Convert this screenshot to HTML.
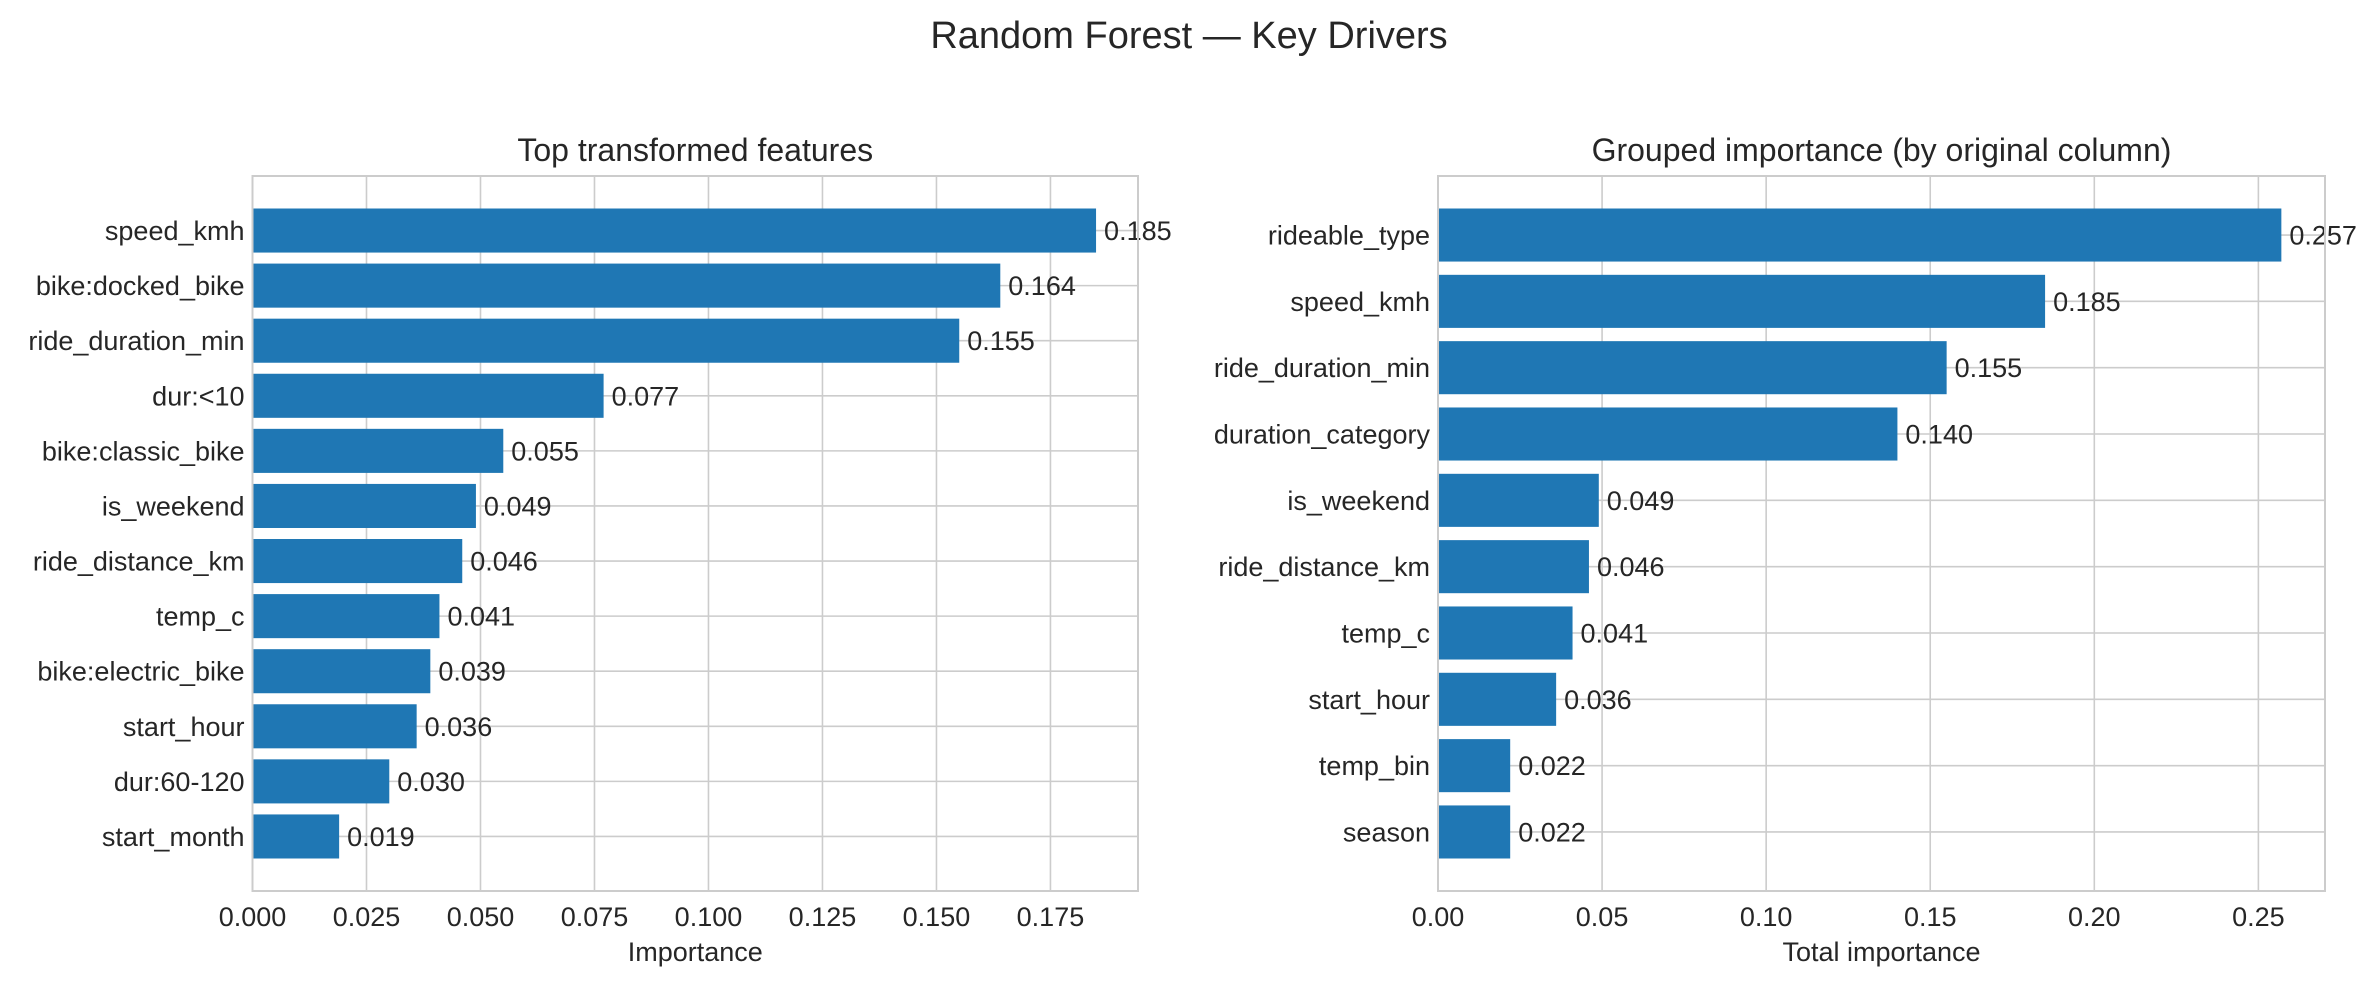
<!DOCTYPE html>
<html><head><meta charset="utf-8"><style>
html,body{margin:0;padding:0;background:#fff;}
svg{display:block;font-family:"Liberation Sans",Arial,sans-serif;}
</style></head><body>
<svg id="chart" width="2378" height="985" viewBox="0 0 2378 985" xmlns="http://www.w3.org/2000/svg">
<rect width="2378" height="985" fill="#fff"/>
<text x="1189" y="48" font-size="38" fill="#262626" text-anchor="middle">Random Forest — Key Drivers</text>
<g id="left"></g>
<g id="right"></g>
</svg>
<script>
const leftCategories = ["speed_kmh","bike:docked_bike","ride_duration_min","dur:<10","bike:classic_bike","is_weekend","ride_distance_km","temp_c","bike:electric_bike","start_hour","dur:60-120","start_month"];
const leftValues = [0.185,0.164,0.155,0.077,0.055,0.049,0.046,0.041,0.039,0.036,0.030,0.019];
const leftTicks = [0,0.025,0.05,0.075,0.1,0.125,0.15,0.175];
const leftTickLabels = ["0.000","0.025","0.050","0.075","0.100","0.125","0.150","0.175"];
const rightCategories = ["rideable_type","speed_kmh","ride_duration_min","duration_category","is_weekend","ride_distance_km","temp_c","start_hour","temp_bin","season"];
const rightValues = [0.257,0.185,0.155,0.140,0.049,0.046,0.041,0.036,0.022,0.022];
const rightTicks = [0,0.05,0.1,0.15,0.2,0.25];
const rightTickLabels = ["0.00","0.05","0.10","0.15","0.20","0.25"];

const NS="http://www.w3.org/2000/svg";
function mk(tag, attrs, parent){const e=document.createElementNS(NS,tag);for(const k in attrs)e.setAttribute(k,attrs[k]);parent.appendChild(e);return e;}

function panel(gid, cfg){
  const g=document.getElementById(gid);
  const {x0,x1,y0,y1,xmax,cats,vals,ticks,tickLabels,title,xlabel}=cfg;
  const sx=v=>x0+(v/xmax)*(x1-x0);
  const n=cats.length;
  const pad=0.05*(n-0.2);
  const lo=-0.4-pad, hi=n-1+0.4+pad;
  const step=(y1-y0)/(hi-lo);
  const sy=i=>y0+(i-lo)*step;
  const FS=27;
  const bg=mk('rect',{x:x0,y:y0,width:x1-x0,height:y1-y0,fill:'#fff'},g);
  
  
  ticks.forEach((t,i)=>{
    const l=mk('line',{x1:sx(t),x2:sx(t),y1:y0,y2:y1,stroke:'#cccccc','stroke-width':1.6},g);
    
    
    const tx=mk('text',{x:sx(t),y:y1+35,'font-size':FS,fill:'#262626','text-anchor':'middle'},g);
    tx.textContent=tickLabels[i];
    
    
  });
  cats.forEach((c,i)=>{
    const l=mk('line',{x1:x0,x2:x1,y1:sy(i),y2:sy(i),stroke:'#cccccc','stroke-width':1.6},g);
    
    
  });
  cats.forEach((c,i)=>{
    const bh=step*0.8;
    const b=mk('rect',{x:x0,y:sy(i)-bh/2,width:sx(vals[i])-x0,height:bh,fill:'#1f77b4'},g);
    
    
    const v=mk('text',{x:sx(vals[i])+8,y:sy(i)+9.5,'font-size':FS,fill:'#262626'},g);
    v.textContent=vals[i].toFixed(3);
    
    
    const yl=mk('text',{x:x0-8,y:sy(i)+9.5,'font-size':FS,fill:'#262626','text-anchor':'end'},g);
    yl.textContent=c;
    
    
  });
  const fr=mk('rect',{x:x0,y:y0,width:x1-x0,height:y1-y0,fill:'none',stroke:'#cccccc','stroke-width':2},g);
  
  
  const t=mk('text',{x:(x0+x1)/2,y:y0-15,'font-size':32,fill:'#262626','text-anchor':'middle'},g);
  t.textContent=title;
  
  
  const xl=mk('text',{x:(x0+x1)/2,y:y1+70,'font-size':FS,fill:'#262626','text-anchor':'middle'},g);
  xl.textContent=xlabel;
  
  
}
panel('left',{x0:252.5,x1:1138,y0:176,y1:891,xmax:0.1942,cats:leftCategories,vals:leftValues,ticks:leftTicks,tickLabels:leftTickLabels,title:"Top transformed features",xlabel:"Importance"});
panel('right',{x0:1438,x1:2325,y0:176,y1:891,xmax:0.2703,cats:rightCategories,vals:rightValues,ticks:rightTicks,tickLabels:rightTickLabels,title:"Grouped importance (by original column)",xlabel:"Total importance"});
</script>
</body></html>
